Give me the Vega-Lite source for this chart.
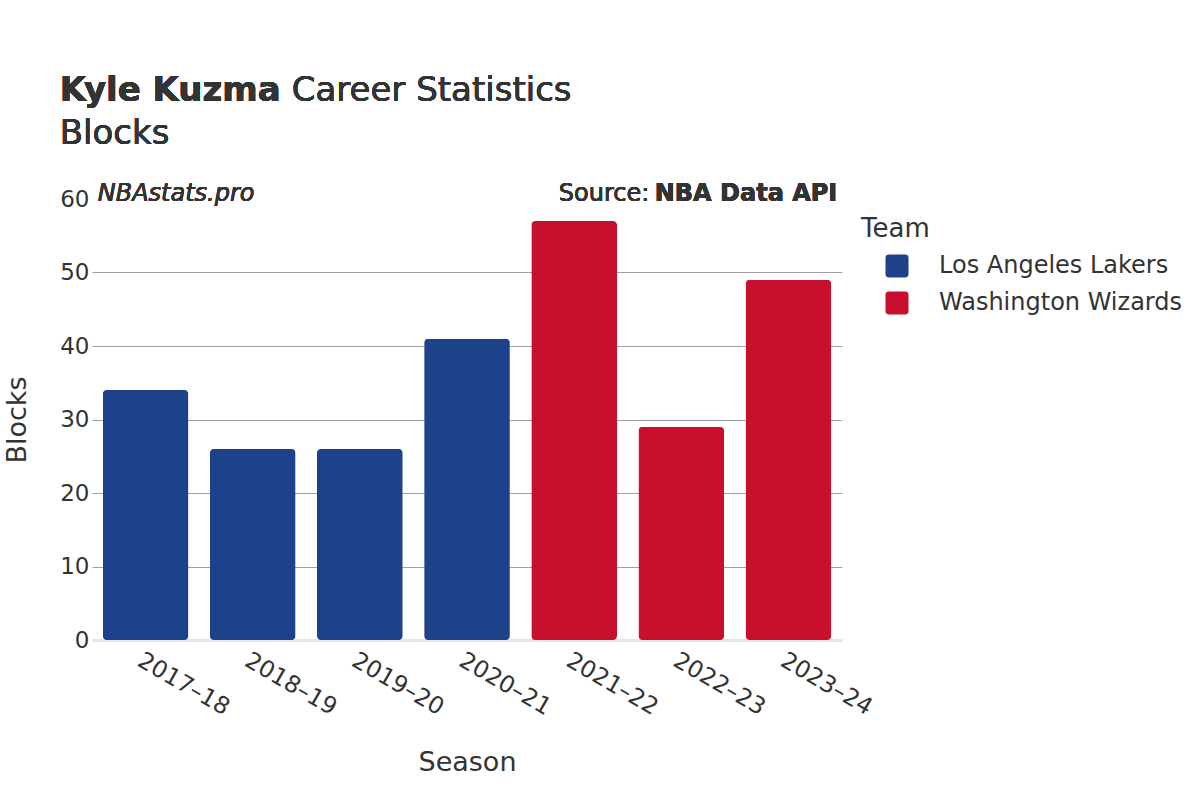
{
  "$schema": "https://vega.github.io/schema/vega-lite/v6.json",
  "width": 750,
  "height": 441,
  "autosize": {"type": "none"},
  "padding": {"left": 92, "top": 199, "right": 358, "bottom": 160},
  "background": "white",
  "config": {
    "font": "DejaVu Sans",
    "view": {"stroke": null}
  },
  "data": {
    "values": [
      {"Season": "2017–18", "Blocks": 34, "Team": "Los Angeles Lakers"},
      {"Season": "2018–19", "Blocks": 26, "Team": "Los Angeles Lakers"},
      {"Season": "2019–20", "Blocks": 26, "Team": "Los Angeles Lakers"},
      {"Season": "2020–21", "Blocks": 41, "Team": "Los Angeles Lakers"},
      {"Season": "2021–22", "Blocks": 57, "Team": "Washington Wizards"},
      {"Season": "2022–23", "Blocks": 29, "Team": "Washington Wizards"},
      {"Season": "2023–24", "Blocks": 49, "Team": "Washington Wizards"}
    ]
  },
  "encoding": {
    "x": {
      "field": "Season",
      "type": "ordinal",
      "scale": {"paddingInner": 0.2, "paddingOuter": 0.1},
      "axis": {
        "title": "Season",
        "titleFontSize": 27,
        "titleFontWeight": "normal",
        "titleColor": "#333333",
        "titlePadding": 30,
        "labelAngle": 30,
        "labelAlign": "left",
        "labelBaseline": "top",
        "labelFontSize": 23.5,
        "labelColor": "#333333",
        "labelPadding": 8,
        "ticks": false,
        "domain": true,
        "domainColor": "#e6e6e6",
        "domainWidth": 3
      }
    }
  },
  "layer": [
    {
      "mark": {"type": "bar", "cornerRadius": 4},
      "encoding": {
        "y": {
          "field": "Blocks",
          "type": "quantitative",
          "scale": {"domain": [0, 60], "nice": false},
          "axis": {
            "title": "Blocks",
            "titleFontSize": 27,
            "titleFontWeight": "normal",
            "titleColor": "#333333",
            "titlePadding": 28,
            "labelFontSize": 23,
            "labelColor": "#333333",
            "labelPadding": 3,
            "values": [0, 10, 20, 30, 40, 50, 60],
            "ticks": false,
            "domain": false,
            "grid": true,
            "gridColor": "#a0a0a0",
            "gridWidth": 1,
            "gridOpacity": {"condition": {"test": "datum.value === 60 || datum.value === 0", "value": 0}, "value": 1}
          }
        },
        "color": {
          "field": "Team",
          "type": "nominal",
          "scale": {
            "domain": ["Los Angeles Lakers", "Washington Wizards"],
            "range": ["#1d428a", "#c8102e"]
          },
          "legend": {
            "title": "Team",
            "titleFontSize": 26,
            "titleFontWeight": "normal",
            "titleColor": "#333333",
            "titlePadding": 12,
            "labelFontSize": 24,
            "labelColor": "#333333",
            "labelLimit": 0,
            "labelOffset": 30,
            "symbolOffset": 24,
            "symbolType": "M-0.7,-1L0.7,-1Q1,-1 1,-0.7L1,0.7Q1,1 0.7,1L-0.7,1Q-1,1 -1,0.7L-1,-0.7Q-1,-1 -0.7,-1Z",
            "symbolSize": 529,
            "symbolStrokeWidth": 0,
            "symbolOpacity": 1,
            "rowPadding": 13,
            "offset": 2,
            "padding": 17,
            "orient": "right"
          }
        }
      }
    },
    {
      "mark": {"type": "text", "align": "left", "baseline": "middle", "fontSize": 34, "fontWeight": "bold", "color": "#333333", "dx": -43, "dy": -108},
      "encoding": {
        "x": {"datum": "2017–18", "bandPosition": 0},
        "y": {"datum": 60},
        "text": {"value": "Kyle Kuzma"}
      }
    },
    {
      "mark": {"type": "text", "align": "left", "baseline": "middle", "fontSize": 34, "color": "#333333", "dx": 189, "dy": -108},
      "encoding": {
        "x": {"datum": "2017–18", "bandPosition": 0},
        "y": {"datum": 60},
        "text": {"value": "Career Statistics"}
      }
    },
    {
      "mark": {"type": "text", "align": "left", "baseline": "middle", "fontSize": 34, "color": "#333333", "dx": -43, "dy": -65},
      "encoding": {
        "x": {"datum": "2017–18", "bandPosition": 0},
        "y": {"datum": 60},
        "text": {"value": "Blocks"}
      }
    },
    {
      "mark": {"type": "text", "align": "left", "baseline": "middle", "fontSize": 24, "fontStyle": "italic", "color": "#333333", "dx": -5, "dy": -5},
      "encoding": {
        "x": {"datum": "2017–18", "bandPosition": 0},
        "y": {"datum": 60},
        "text": {"value": "NBAstats.pro"}
      }
    },
    {
      "mark": {"type": "text", "align": "right", "baseline": "middle", "fontSize": 24, "fontWeight": "bold", "color": "#333333", "dx": 6, "dy": -5},
      "encoding": {
        "x": {"datum": "2023–24", "bandPosition": 1},
        "y": {"datum": 60},
        "text": {"value": "NBA Data API"}
      }
    },
    {
      "mark": {"type": "text", "align": "right", "baseline": "middle", "fontSize": 24, "color": "#333333", "dx": -182, "dy": -5},
      "encoding": {
        "x": {"datum": "2023–24", "bandPosition": 1},
        "y": {"datum": 60},
        "text": {"value": "Source:"}
      }
    }
  ]
}
